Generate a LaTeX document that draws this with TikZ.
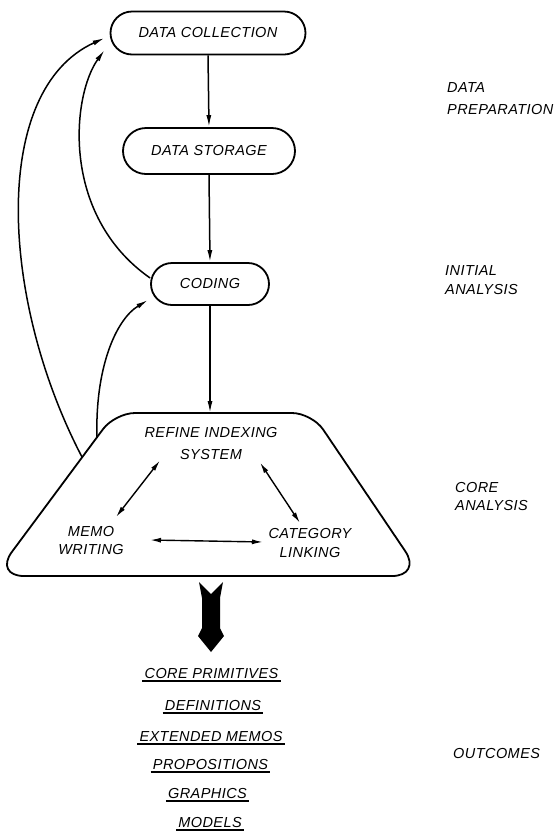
\documentclass[tikz,border=0pt]{standalone}
\usepackage{fontspec}
\setmainfont{Liberation Sans}[LetterSpace=3]
\usetikzlibrary{arrows.meta,shapes.misc}
\begin{document}
\begin{tikzpicture}[x=1pt,y=-1pt,
  font=\fontsize{14.5}{20}\selectfont\itshape,
  stage/.style={rounded rectangle, draw, line width=1.8pt, inner sep=0pt},
  flow/.style={line width=1.5pt, -{Latex[length=12pt,width=5pt]}},
  both/.style={line width=1.4pt, {Latex[length=11pt,width=5pt]}-{Latex[length=11pt,width=5pt]}},
  lbl/.style={inner sep=0pt, align=center},
  side/.style={inner sep=0pt, align=left, anchor=west},
  outc/.style={inner sep=0pt, anchor=base},
  uline/.style={line width=1.6pt}]
\useasboundingbox (0,0) rectangle (555,831);

% main stages
\node[stage, minimum width=195pt, minimum height=43pt] (dc) at (208,33) {DATA COLLECTION};
\node[stage, minimum width=172pt, minimum height=46pt] (ds) at (209,151) {DATA STORAGE};
\node[stage, minimum width=118pt, minimum height=42pt] (cod) at (210,284) {CODING};

% core analysis block
\draw[line width=1.8pt, rounded corners=20pt] (210,413) -- (312,413)
  [rounded corners=30pt] -- (422,576) -- (-6,576)
  [rounded corners=20pt] -- (115,413) -- cycle;
\coordinate (tz-top) at (210,413);
\coordinate (tz-out) at (82,457);
\coordinate (tz-in) at (97,437);

\node[lbl] (refine) at (211,443.5) {REFINE INDEXING\\[2pt]SYSTEM};
\node[lbl] (memo) at (91,540) {MEMO\\[-2pt]WRITING};
\node[lbl] (cat) at (310,543) {CATEGORY\\[-1pt]LINKING};

% main flow
\draw[flow] (dc.south) -- (ds.north);
\draw[flow] (ds.south) -- (cod.north);
\draw[flow] (cod.south) -- (tz-top);

% feedback loops
\draw[flow] (tz-out) .. controls (0,300) and (-10,90) .. ([shift={(-5,5)}]dc.west);
\draw[flow] ([shift={(0,-6)}]cod.west) .. controls (60,215) and (72,95) .. ([shift={(-5,17)}]dc.west);
\draw[flow] (tz-in) .. controls (95,370) and (115,320) .. ([shift={(-2,16)}]cod.west);

% links inside the core block
\draw[both] ([shift={(-51,17)}]refine.center) -- ([shift={(25,-23)}]memo.center);
\draw[both] ([shift={(49,19)}]refine.center) -- ([shift={(-10,-20)}]cat.center);
\draw[both] ([shift={(59,0)}]memo.center) -- ([shift={(-47,-1)}]cat.center);

% heavy arrow to the outcomes
\fill (199,582) -- (211,594) -- (223,582) -- (220,598) -- (220,628) -- (224,636)
  -- (211,652) -- (198,636) -- (202,628) -- (202,598) -- cycle;

% outcomes
\node[outc] (o1) at (211.5,678) {CORE PRIMITIVES};
\node[outc] (o2) at (213,710) {DEFINITIONS};
\node[outc] (o3) at (211,741) {EXTENDED MEMOS};
\node[outc] (o4) at (210.5,769) {PROPOSITIONS};
\node[outc] (o5) at (207.5,798) {GRAPHICS};
\node[outc] (o6) at (210,827) {MODELS};
\foreach \n in {o1,o2,o3,o4,o5,o6}
  \draw[uline] ([shift={(-2,3)}]\n.base west) -- ([shift={(2,3)}]\n.base east);

% phase labels
\node[side] (prep) at (447,98.5) {DATA\\[2pt]PREPARATION};
\node[side] (init) at (445,280.5) {INITIAL\\[-1pt]ANALYSIS};
\node[side] (core) at (455,496.5) {CORE\\[-2pt]ANALYSIS};
\node[side] (outl) at (453,753.5) {OUTCOMES};
\end{tikzpicture}
\end{document}
